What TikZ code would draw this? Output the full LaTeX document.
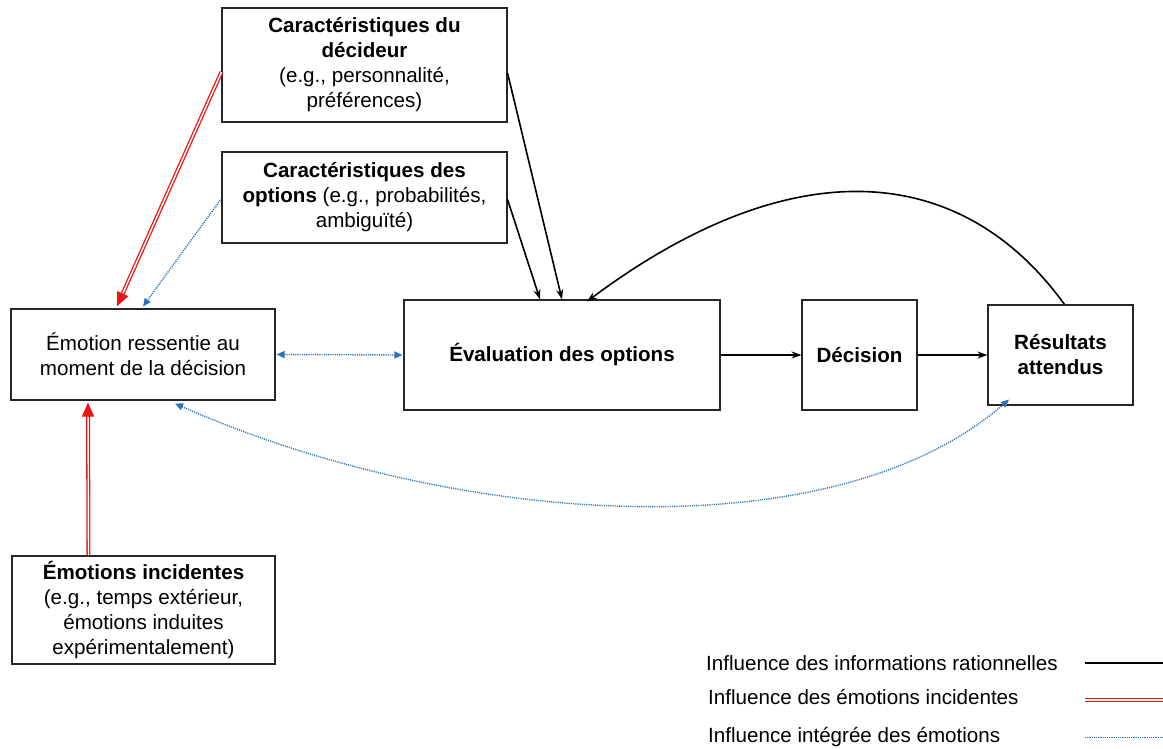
\documentclass[tikz,border=0pt]{standalone}
\usepackage{fontspec}
\setmainfont{Liberation Sans}
\usetikzlibrary{arrows.meta,calc}
\definecolor{eblue}{RGB}{40,115,185}
\definecolor{ered}{RGB}{235,20,20}
\begin{document}
\begin{tikzpicture}[x=1pt,y=-1pt,
  box/.style={draw=black!85, line width=1.1pt, align=center, inner sep=0pt, font=\fontsize{20.6}{25}\selectfont},
  legtext/.style={anchor=west, inner sep=0pt, font=\fontsize{20.6}{25}\selectfont},
  rat/.style={black, line width=1.6pt, -{Stealth[length=10pt,width=7pt]}},
  ratline/.style={black, line width=1.6pt},
  emoline/.style={eblue, line width=1.4pt, dash pattern=on 1.1pt off 1.1pt},
  emoarr/.style={emoline, -{Triangle[length=8pt,width=7pt]}},
  emoboth/.style={emoline, {Triangle[length=8pt,width=7pt]}-{Triangle[length=8pt,width=7pt]}},
  incdouble/.style={draw=ered, line width=1.3pt, double=white, double distance=1.4pt},
  redtip/.style={ered, line width=1pt, -{Triangle[length=14pt,width=12pt]}},
]
\useasboundingbox (0,0) rectangle (1163,749);

% nodes
\node[box, minimum width=285pt, minimum height=114pt] (dec) at (364.5,65)
  {\textbf{Caractéristiques du}\\\textbf{décideur}\\(e.g., personnalité,\\préférences)};
\node[box, minimum width=285pt, minimum height=91pt] (opt) at (364.5,197.5)
  {\textbf{Caractéristiques des}\\\textbf{options} (e.g., probabilités,\\ambiguïté)};
\node[box, minimum width=264pt, minimum height=91pt] (emo) at (143,354.5)
  {Émotion ressentie au\\moment de la décision};
\node[box, minimum width=263pt, minimum height=108pt] (inc) at (143.5,610)
  {\textbf{Émotions incidentes}\\(e.g., temps extérieur,\\émotions induites\\expérimentalement)};
\node[box, minimum width=316pt, minimum height=110pt] (eval) at (562,355)
  {\textbf{Évaluation des options}};
\node[box, minimum width=115pt, minimum height=110pt] (deci) at (859.5,355)
  {\textbf{Décision}};
\node[box, minimum width=145pt, minimum height=100pt] (res) at (1060.5,355)
  {\textbf{Résultats}\\\textbf{attendus}};

% rational influences
\draw[rat] ([yshift=-8pt]dec.east) -- (eval.north);
\draw[rat] ([yshift=-2pt]opt.east) -- ([xshift=-22pt]eval.north);
\draw[rat] (eval.east) -- (deci.west);
\draw[rat] (deci.east) -- (res.west);
\draw[rat] ([xshift=4pt]res.north) .. controls (960,160) and (790,150) .. ([xshift=25pt,yshift=-2pt]eval.north);

% incidental emotions (red double)
\coordinate (r1s) at ([yshift=-7pt]dec.west);
\coordinate (r1e) at ([xshift=-26pt,yshift=2pt]emo.north);
\draw[incdouble, shorten >=12pt] (r1s) -- (r1e);
\draw[redtip] ($(r1e)!14pt!(r1s)$) -- (r1e);
\coordinate (r2s) at ([xshift=-55pt]inc.north);
\coordinate (r2e) at ([xshift=-55pt,yshift=-2pt]emo.south);
\draw[incdouble, shorten >=12pt] (r2s) -- (r2e);
\draw[redtip] ($(r2e)!14pt!(r2s)$) -- (r2e);

% integrated emotions (blue dotted)
\draw[emoarr] ([yshift=-1pt]opt.west) -- ([yshift=2pt]emo.north);
\draw[emoboth] ([xshift=1pt]emo.east) -- ([xshift=-1pt]eval.west);
\draw[emoboth] ([xshift=32pt,yshift=-3pt]emo.south) .. controls (450,525) and (830,555) .. ([xshift=-51.5pt,yshift=6pt]res.south);

% legend
\node[legtext] (l1) at (706,663) {Influence des informations rationnelles};
\node[legtext] (l2) at (708,697) {Influence des émotions incidentes};
\node[legtext] (l3) at (708,737) {Influence intégrée des émotions};
\coordinate (l1a) at (1085,663); \coordinate (l1b) at (1163,663);
\coordinate (l2a) at (1085,700); \coordinate (l2b) at (1163,700);
\coordinate (l3a) at (1085,737); \coordinate (l3b) at (1163,737);
\draw[ratline] (l1a) -- (l1b);
\draw[incdouble] (l2a) -- (l2b);
\draw[emoline, line width=1pt] (l3a) -- (l3b);
\end{tikzpicture}
\end{document}
